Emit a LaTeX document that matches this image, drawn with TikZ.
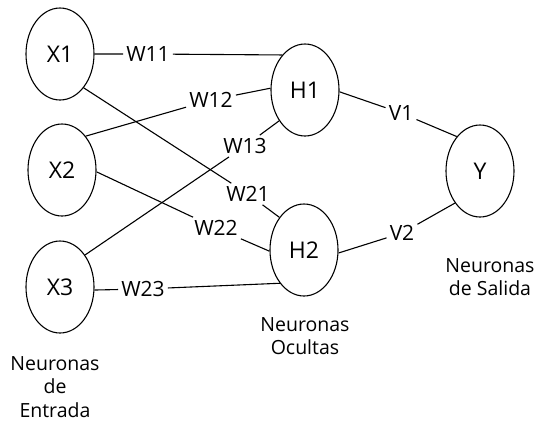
\documentclass[tikz,border=0pt]{standalone}
\usepackage{fontspec}
\setmainfont{Open Sans}
\usetikzlibrary{shapes.geometric}
\begin{document}
\begin{tikzpicture}[x=1pt,y=-1pt,
  neuron/.style={ellipse,draw,line width=1.1pt,minimum width=68pt,minimum height=92pt,inner sep=0pt,font=\fontsize{23}{26}\selectfont},
  wlabel/.style={inner sep=3pt,font=\fontsize{21}{24}\selectfont},
  caption/.style={align=center,anchor=north,inner sep=0pt,font=\fontsize{19.5}{23.5}\selectfont},
  conn/.style={line width=1.1pt}]
\useasboundingbox[fill=white] (0,0) rectangle (534,426);
\node[neuron] (X1) at (60,54) {X1};
\node[neuron] (X2) at (62,170) {X2};
\node[neuron] (X3) at (60,287) {X3};
\node[neuron] (H1) at (305,90) {H1};
\node[neuron] (H2) at (304,250) {H2};
\node[neuron] (Y) at (480,171) {Y};
\node[wlabel] (w11) at (148,54) {W11};
\node[wlabel] (w12) at (211,100) {W12};
\node[wlabel] (w13) at (245,146) {W13};
\node[wlabel] (w21) at (248,194) {W21};
\node[wlabel] (w22) at (216,228) {W22};
\node[wlabel] (w23) at (143,289) {W23};
\node[wlabel] (v1) at (401,113) {V1};
\node[wlabel] (v2) at (402,233) {V2};
\draw[conn] (X1.east) -- (w11) -- (H1.123);
\draw[conn] (X2.55) -- (w12) -- (H1.177);
\draw[conn] (X3.52) -- (w13) -- (H1.230);
\draw[conn] (X1.-55) -- (w21) -- (H2.127);
\draw[conn] (X2.-3) -- (w22) -- (H2.182);
\draw[conn] (X3.-5) -- (w23) -- (H2.234);
\draw[conn] (H1.-3) -- (v1) -- (Y.124);
\draw[conn] (H2.-5) -- (v2) -- (Y.232);
\node[caption] (cin) at (55,356) {Neuronas\\de\\Entrada};
\node[caption] (chid) at (305,317) {Neuronas\\Ocultas};
\node[caption] (cout) at (490,258) {Neuronas\\de Salida};
\end{tikzpicture}
\end{document}
